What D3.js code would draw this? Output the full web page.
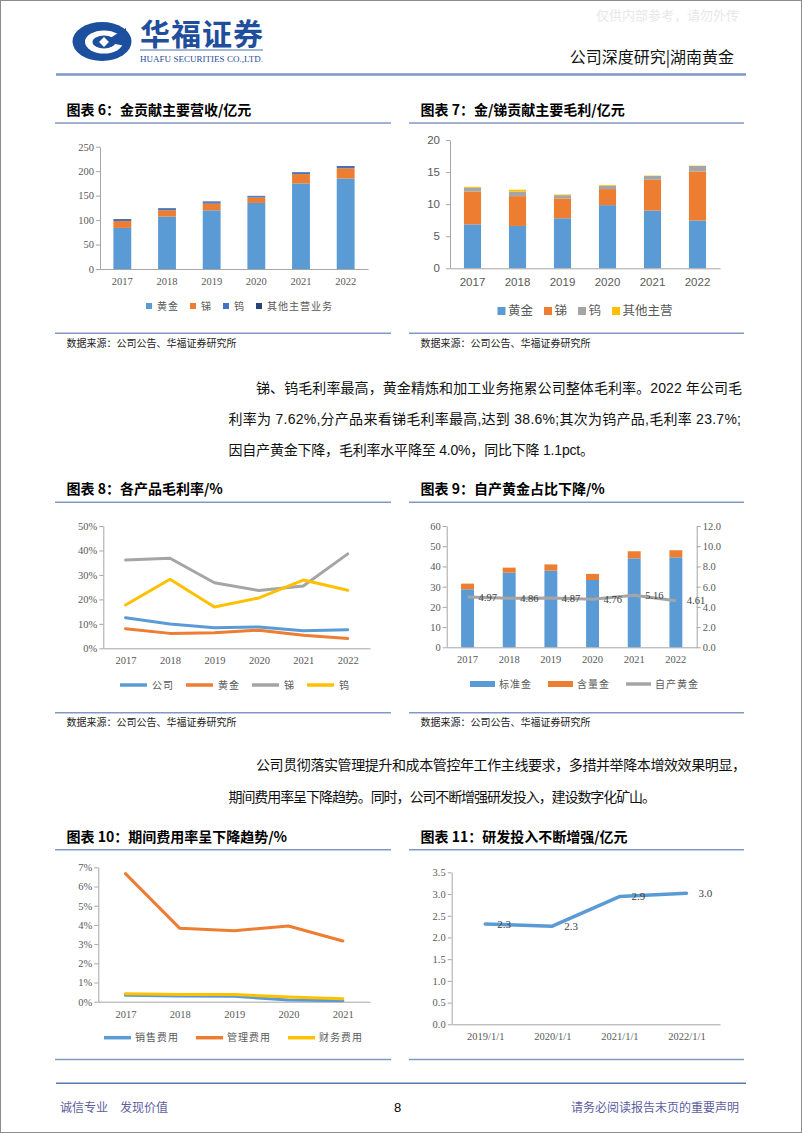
<!doctype html>
<html lang="zh">
<head>
<meta charset="UTF-8">
<title>公司深度研究|湖南黄金</title>
<style>
  body { margin: 0; background: #fff; }
  svg { display: block; }
</style>
</head>
<body>
<div class="container"></div>

<script src="https://d3js.org/d3.v7.min.js"></script>
<script>
  // ---------- data ----------
  const years = ['2017', '2018', '2019', '2020', '2021', '2022'];
  const years10 = ['2017', '2018', '2019', '2020', '2021'];
  const rdDates = ['2019/1/1', '2020/1/1', '2021/1/1', '2022/1/1'];

  // 图表6 营收 / 亿元
  const revGold = [84, 107, 120, 135, 175, 185];
  const revSb = [14, 13, 13.5, 11, 19, 21];
  const revW = [2.5, 2.5, 3, 2.5, 3, 3];
  const revOther = [1.5, 1.5, 1.5, 1, 1, 1.5];
  const revTicks = [0, 50, 100, 150, 200, 250];

  // 图表7 毛利 / 亿元
  const gpGold = [6.85, 6.6, 7.8, 9.85, 9.0, 7.45];
  const gpSb = [5.1, 4.65, 3.1, 2.5, 4.8, 7.65];
  const gpW = [0.6, 0.7, 0.5, 0.55, 0.6, 0.85];
  const gpOther = [0.15, 0.3, 0.1, 0.1, 0.05, 0.05];
  const gpTicks = [0, 5, 10, 15, 20];

  // 图表8 毛利率
  const gmCompany = [0.125, 0.099, 0.084, 0.087, 0.072, 0.0762];
  const gmGold = [0.080, 0.061, 0.064, 0.074, 0.053, 0.040];
  const gmSb = [0.361, 0.368, 0.268, 0.236, 0.255, 0.386];
  const gmW = [0.177, 0.282, 0.169, 0.206, 0.279, 0.237];
  const gmTicks = [0, 0.1, 0.2, 0.3, 0.4, 0.5];

  // 图表9 黄金产量 / 自产黄金占比
  const stdGold = [28.7, 36.9, 37.9, 33.3, 44.0, 44.5];
  const contentGold = [2.8, 2.5, 3.1, 3.0, 3.5, 3.5];
  const selfGold = [4.97, 4.86, 4.87, 4.76, 5.16, 4.61];
  const leftTicks9 = [0, 10, 20, 30, 40, 50, 60];
  const rightTicks9 = [0, 2, 4, 6, 8, 10, 12];

  // 图表10 期间费用率
  const feeSales = [0.0033, 0.0030, 0.0028, 0.0009, 0.0005];
  const feeAdmin = [0.0667, 0.0382, 0.0370, 0.0394, 0.0316];
  const feeFin = [0.0042, 0.0038, 0.0038, 0.0024, 0.0016];
  const feeTicks = [0, 0.01, 0.02, 0.03, 0.04, 0.05, 0.06, 0.07];

  // 图表11 研发投入 / 亿元
  const rdValues = [2.31, 2.26, 2.94, 3.02];
  const rdTicks = [0, 0.5, 1, 1.5, 2, 2.5, 3, 3.5];

  // ---------- style ----------
  const BLUE = '#5b9bd5', ORANGE = '#ed7d31', GRAY = '#a5a5a5', YELLOW = '#ffc000';
  const DBLUE = '#4472c4', NAVY = '#264478';
  const AXIS = '#a6a6a6', LABEL = '#595959', RULE = '#8497c4';
  const CJK = '"Noto Sans CJK SC", sans-serif';
  const SERIF = '"Liberation Serif", "Noto Sans CJK SC", serif';
  const SANS = '"Liberation Sans", "Noto Sans CJK SC", sans-serif';
  const BODY = '"Liberation Sans Narrow", "Liberation Sans", "Noto Sans CJK SC", sans-serif';

  const W = 802, H = 1133;
  const svg = d3.select('.container').append('svg')
    .attr('width', W).attr('height', H);

  svg.append('rect').attr('x', 0.5).attr('y', 0.5).attr('width', W - 1).attr('height', H - 1)
    .attr('fill', '#fff').attr('stroke', '#8c8c8c');

  // ---------- helpers ----------
  function txt(x, y, s, size, font, fill, anchor) {
    return svg.append('text').attr('x', x).attr('y', y).attr('dy', '0.35em')
      .attr('text-anchor', anchor || 'start')
      .style('font-family', font).style('font-size', size + 'px')
      .attr('fill', fill || '#000').text(s);
  }

  function rule(x0, x1, y, color, w) {
    svg.append('line').attr('x1', x0).attr('x2', x1).attr('y1', y).attr('y2', y)
      .attr('stroke', color || RULE).attr('stroke-width', w || 1.5);
  }

  function panel(x0, x1, titleY, title, bottomY, source) {
    txt(x0 + 11.5, titleY, title, 14, CJK, '#000').style('font-weight', 700);
    rule(x0, x1, titleY + 13);
    rule(x0, x1, bottomY);
    if (source) txt(x0 + 11.5, bottomY + 10, '数据来源：公司公告、华福证券研究所', 10, CJK, '#222');
  }

  function styleAxis(g, font, size) {
    g.select('.domain').attr('stroke', AXIS);
    g.selectAll('.tick line').attr('stroke', AXIS);
    g.selectAll('.tick text').attr('fill', LABEL)
      .style('font-family', font).style('font-size', size + 'px');
  }

  function yAxis(scale, xPos, vals, fmt, o) {
    const ax = (o.right ? d3.axisRight(scale) : d3.axisLeft(scale))
      .tickValues(vals).tickFormat(fmt).tickSize(4).tickSizeOuter(0).tickPadding(o.pad);
    const g = svg.append('g').attr('transform', `translate(${xPos},0)`).call(ax);
    styleAxis(g, o.font, o.size);
  }

  function xAxis(scale, yPos, o) {
    const ax = d3.axisBottom(scale).tickSize(0).tickSizeOuter(0).tickPadding(o.pad);
    const g = svg.append('g').attr('transform', `translate(0,${yPos})`).call(ax);
    styleAxis(g, o.font, o.size);
  }

  function stackedBars(x, y, cats, series, colors) {
    const keys = series.map((s, k) => 'k' + k);
    const table = cats.map((c, i) => {
      const row = { cat: c };
      series.forEach((s, k) => { row['k' + k] = s[i]; });
      return row;
    });
    const layers = d3.stack().keys(keys)(table);
    svg.append('g').selectAll('g').data(layers).join('g')
      .attr('fill', (d, i) => colors[i])
      .selectAll('rect').data(d => d).join('rect')
      .attr('x', d => x(d.data.cat))
      .attr('width', x.bandwidth())
      .attr('y', d => y(d[1]))
      .attr('height', d => y(d[0]) - y(d[1]));
  }

  function lineSeries(x, y, cats, vals, color, w) {
    svg.append('path').datum(vals)
      .attr('fill', 'none').attr('stroke', color).attr('stroke-width', w || 3)
      .attr('stroke-linejoin', 'round').attr('stroke-linecap', 'round')
      .attr('d', d3.line().x((d, i) => x(cats[i])).y(d => y(d)));
  }

  function legend(x, y, items, o) {
    let cx = x;
    items.forEach(it => {
      if (it.kind === 'line') {
        svg.append('line').attr('x1', cx).attr('x2', cx + o.sw).attr('y1', y).attr('y2', y)
          .attr('stroke', it.color).attr('stroke-width', 3.5);
      } else {
        svg.append('rect').attr('x', cx).attr('y', y - o.sh / 2)
          .attr('width', o.sw).attr('height', o.sh).attr('fill', it.color);
      }
      cx += o.sw + o.gap1;
      const t = txt(cx, y, it.label, o.size, CJK, LABEL).style('letter-spacing', (o.ls || 0) + 'px');
      cx += t.node().getComputedTextLength() + o.gap2;
    });
  }

  // ---------- header ----------
  txt(739, 15, '仅供内部参考，请勿外传', 13, CJK, '#e8e8e8', 'end');

  const logo = svg.append('g');
  logo.append('ellipse').attr('cx', 102).attr('cy', 41.5).attr('rx', 29.5).attr('ry', 19.5).attr('fill', '#1c4f9e');
  logo.append('ellipse').attr('cx', 104).attr('cy', 42).attr('rx', 19).attr('ry', 11.5).attr('fill', '#fff');
  logo.append('path').attr('d', 'M104,42 L126,28 L126,46 Z').attr('fill', '#1c4f9e');
  logo.append('ellipse').attr('cx', 104).attr('cy', 42).attr('rx', 11.5).attr('ry', 6.5).attr('fill', '#1c4f9e');
  logo.append('rect').attr('x', -3.5).attr('y', -3.5).attr('width', 7).attr('height', 7)
    .attr('transform', 'translate(104,42) rotate(45)').attr('fill', '#fff');

  svg.append('text').attr('x', 140).attr('y', 45).attr('textLength', 123)
    .style('font-family', CJK).style('font-size', '30px').style('font-weight', 700)
    .attr('fill', '#1f4e9c').text('华福证券');
  rule(140, 263, 50, '#1f4e9c', 0.8);
  svg.append('text').attr('x', 140).attr('y', 62).attr('textLength', 123)
    .style('font-family', SERIF).style('font-size', '9px')
    .attr('fill', '#1f4e9c').text('HUAFU SECURITIES CO.,LTD.');

  txt(734, 57.5, '公司深度研究|湖南黄金', 16, CJK, '#111', 'end');
  rule(56, 746, 74.5, '#7f96c7', 2.5);

  // ---------- 图表6 ----------
  panel(55, 391, 110, '图表 6：金贡献主要营收/亿元', 333.3, true);
  {
    const x = d3.scaleBand().domain(years).range([100, 368]).paddingInner(0.6).paddingOuter(0.3);
    const y = d3.scaleLinear().domain([0, 250]).range([269, 146.7]);
    yAxis(y, 100, revTicks, d3.format('d'), { pad: 2, font: SERIF, size: 10.5 });
    stackedBars(x, y, years, [revGold, revSb, revW, revOther], [BLUE, ORANGE, DBLUE, NAVY]);
    xAxis(x, 269, { pad: 8.5, font: SERIF, size: 10.5 });
    legend(146, 306, [
      { label: '黄金', color: BLUE }, { label: '锑', color: ORANGE },
      { label: '钨', color: DBLUE }, { label: '其他主营业务', color: NAVY }
    ], { sw: 6, sh: 6, gap1: 5, gap2: 11, size: 10, ls: 1 });
  }

  // ---------- 图表7 ----------
  panel(409, 744, 110, '图表 7：金/锑贡献主要毛利/亿元', 333.3, true);
  {
    const x = d3.scaleBand().domain(years).range([450, 720]).paddingInner(0.62).paddingOuter(0.31);
    const y = d3.scaleLinear().domain([0, 20]).range([268.3, 140]);
    yAxis(y, 450, gpTicks, d3.format('d'), { pad: 6, font: SANS, size: 11.5 });
    stackedBars(x, y, years, [gpGold, gpSb, gpW, gpOther], [BLUE, ORANGE, GRAY, YELLOW]);
    xAxis(x, 268.3, { pad: 10, font: SANS, size: 11.5 });
    legend(497.5, 311, [
      { label: '黄金', color: BLUE }, { label: '锑', color: ORANGE },
      { label: '钨', color: GRAY }, { label: '其他主营', color: YELLOW }
    ], { sw: 8, sh: 8, gap1: 2.5, gap2: 11, size: 12.5 });
  }

  // ---------- paragraph 1 ----------
  function para(x0, x1, y, s, justify) {
    const t = svg.append('text').attr('x', x0).attr('y', y).attr('dy', '0.35em')
      .style('font-family', BODY).style('font-size', '14px').attr('fill', '#111').text(s);
    if (justify) t.attr('textLength', x1 - x0).attr('lengthAdjust', 'spacing');
  }
  para(256, 742, 388, '锑、钨毛利率最高，黄金精炼和加工业务拖累公司整体毛利率。2022 年公司毛', true);
  para(228.5, 741, 419.5, '利率为 7.62%,分产品来看锑毛利率最高,达到 38.6%;其次为钨产品,毛利率 23.7%;', true);
  para(228.5, 594, 450, '因自产黄金下降，毛利率水平降至 4.0%，同比下降 1.1pct。', true);

  // ---------- 图表8 ----------
  panel(55, 391, 489.3, '图表 8：各产品毛利率/%', 712.7, true);
  {
    const x = d3.scalePoint().domain(years).range([103.3, 370]).padding(0.5);
    const y = d3.scaleLinear().domain([0, 0.5]).range([648.3, 526]);
    yAxis(y, 103.3, gmTicks, d3.format('.0%'), { pad: 2, font: SERIF, size: 10.5 });
    xAxis(x, 648.3, { pad: 8.5, font: SERIF, size: 10.5 });
    lineSeries(x, y, years, gmCompany, BLUE);
    lineSeries(x, y, years, gmGold, ORANGE);
    lineSeries(x, y, years, gmSb, GRAY);
    lineSeries(x, y, years, gmW, YELLOW);
    legend(120, 685, [
      { label: '公司', color: BLUE, kind: 'line' }, { label: '黄金', color: ORANGE, kind: 'line' },
      { label: '锑', color: GRAY, kind: 'line' }, { label: '钨', color: YELLOW, kind: 'line' }
    ], { sw: 27, gap1: 5, gap2: 12, size: 10, ls: 1 });
  }

  // ---------- 图表9 ----------
  panel(409, 744, 489.3, '图表 9：自产黄金占比下降/%', 712.7, true);
  {
    const x = d3.scaleBand().domain(years).range([446.7, 696.7]).paddingInner(0.69).paddingOuter(0.345);
    const y = d3.scaleLinear().domain([0, 60]).range([647.3, 526]);
    const y2 = d3.scaleLinear().domain([0, 12]).range([647.3, 526]);
    yAxis(y, 446.7, leftTicks9, d3.format('d'), { pad: 2, font: SERIF, size: 10.5 });
    yAxis(y2, 696.7, rightTicks9, d3.format('.1f'), { right: true, pad: 2, font: SERIF, size: 10.5 });
    stackedBars(x, y, years, [stdGold, contentGold], [BLUE, ORANGE]);
    xAxis(x, 647.3, { pad: 8.5, font: SERIF, size: 10.5 });
    const cx = d => x(d) + x.bandwidth() / 2;
    svg.append('path').datum(selfGold)
      .attr('fill', 'none').attr('stroke', GRAY).attr('stroke-width', 3)
      .attr('stroke-linejoin', 'round')
      .attr('d', d3.line().x((d, i) => cx(years[i])).y(d => y2(d)));
    selfGold.forEach((v, i) => {
      txt(cx(years[i]) + 11, y2(v), d3.format('.2f')(v), 10.5, SERIF, '#404040');
    });
    legend(470, 684, [
      { label: '标准金', color: BLUE }, { label: '含量金', color: ORANGE },
      { label: '自产黄金', color: GRAY, kind: 'line' }
    ], { sw: 25, sh: 6, gap1: 4, gap2: 16, size: 10, ls: 1 });
  }

  // ---------- paragraph 2 ----------
  para(256, 746, 765, '公司贯彻落实管理提升和成本管控年工作主线要求，多措并举降本增效效果明显，', true);
  para(228.5, 656, 796.7, '期间费用率呈下降趋势。同时，公司不断增强研发投入，建设数字化矿山。', true);

  // ---------- 图表10 ----------
  panel(55, 391, 836.7, '图表 10：期间费用率呈下降趋势/%', 1059.5, false);
  {
    const x = d3.scalePoint().domain(years10).range([98.3, 370]).padding(0.5);
    const y = d3.scaleLinear().domain([0, 0.07]).range([1001.7, 867.3]);
    yAxis(y, 98.3, feeTicks, d3.format('.0%'), { pad: 2, font: SERIF, size: 10.5 });
    xAxis(x, 1001.7, { pad: 8.5, font: SERIF, size: 10.5 });
    lineSeries(x, y, years10, feeSales, BLUE);
    lineSeries(x, y, years10, feeAdmin, ORANGE);
    lineSeries(x, y, years10, feeFin, YELLOW);
    legend(104, 1037.7, [
      { label: '销售费用', color: BLUE, kind: 'line' }, { label: '管理费用', color: ORANGE, kind: 'line' },
      { label: '财务费用', color: YELLOW, kind: 'line' }
    ], { sw: 27, gap1: 4, gap2: 17, size: 10, ls: 1 });
  }

  // ---------- 图表11 ----------
  panel(409, 744, 836.7, '图表 11：研发投入不断增强/亿元', 1059.5, false);
  {
    const x = d3.scalePoint().domain(rdDates).range([451.7, 720]).padding(0.5);
    const y = d3.scaleLinear().domain([0, 3.5]).range([1024.3, 872.3]);
    yAxis(y, 451.7, rdTicks, d3.format('.1f'), { pad: 2, font: SERIF, size: 10.5 });
    xAxis(x, 1024.3, { pad: 8.5, font: SERIF, size: 10.5 });
    lineSeries(x, y, rdDates, rdValues, BLUE, 3.5);
    rdValues.forEach((v, i) => {
      txt(x(rdDates[i]) + 12, y(v), d3.format('.1f')(v), 11, SERIF, '#404040');
    });
  }

  // ---------- footer ----------
  rule(56, 746, 1083.3, '#5a77ad', 1.5);
  txt(60, 1107.7, '诚信专业', 12, CJK, '#5d60a0');
  txt(120, 1107.7, '发现价值', 12, CJK, '#5d60a0');
  txt(397.5, 1107.7, '8', 13, SANS, '#000', 'middle');
  txt(739, 1107.7, '请务必阅读报告末页的重要声明', 12, CJK, '#5d60a0', 'end');
</script>
</body>
</html>
